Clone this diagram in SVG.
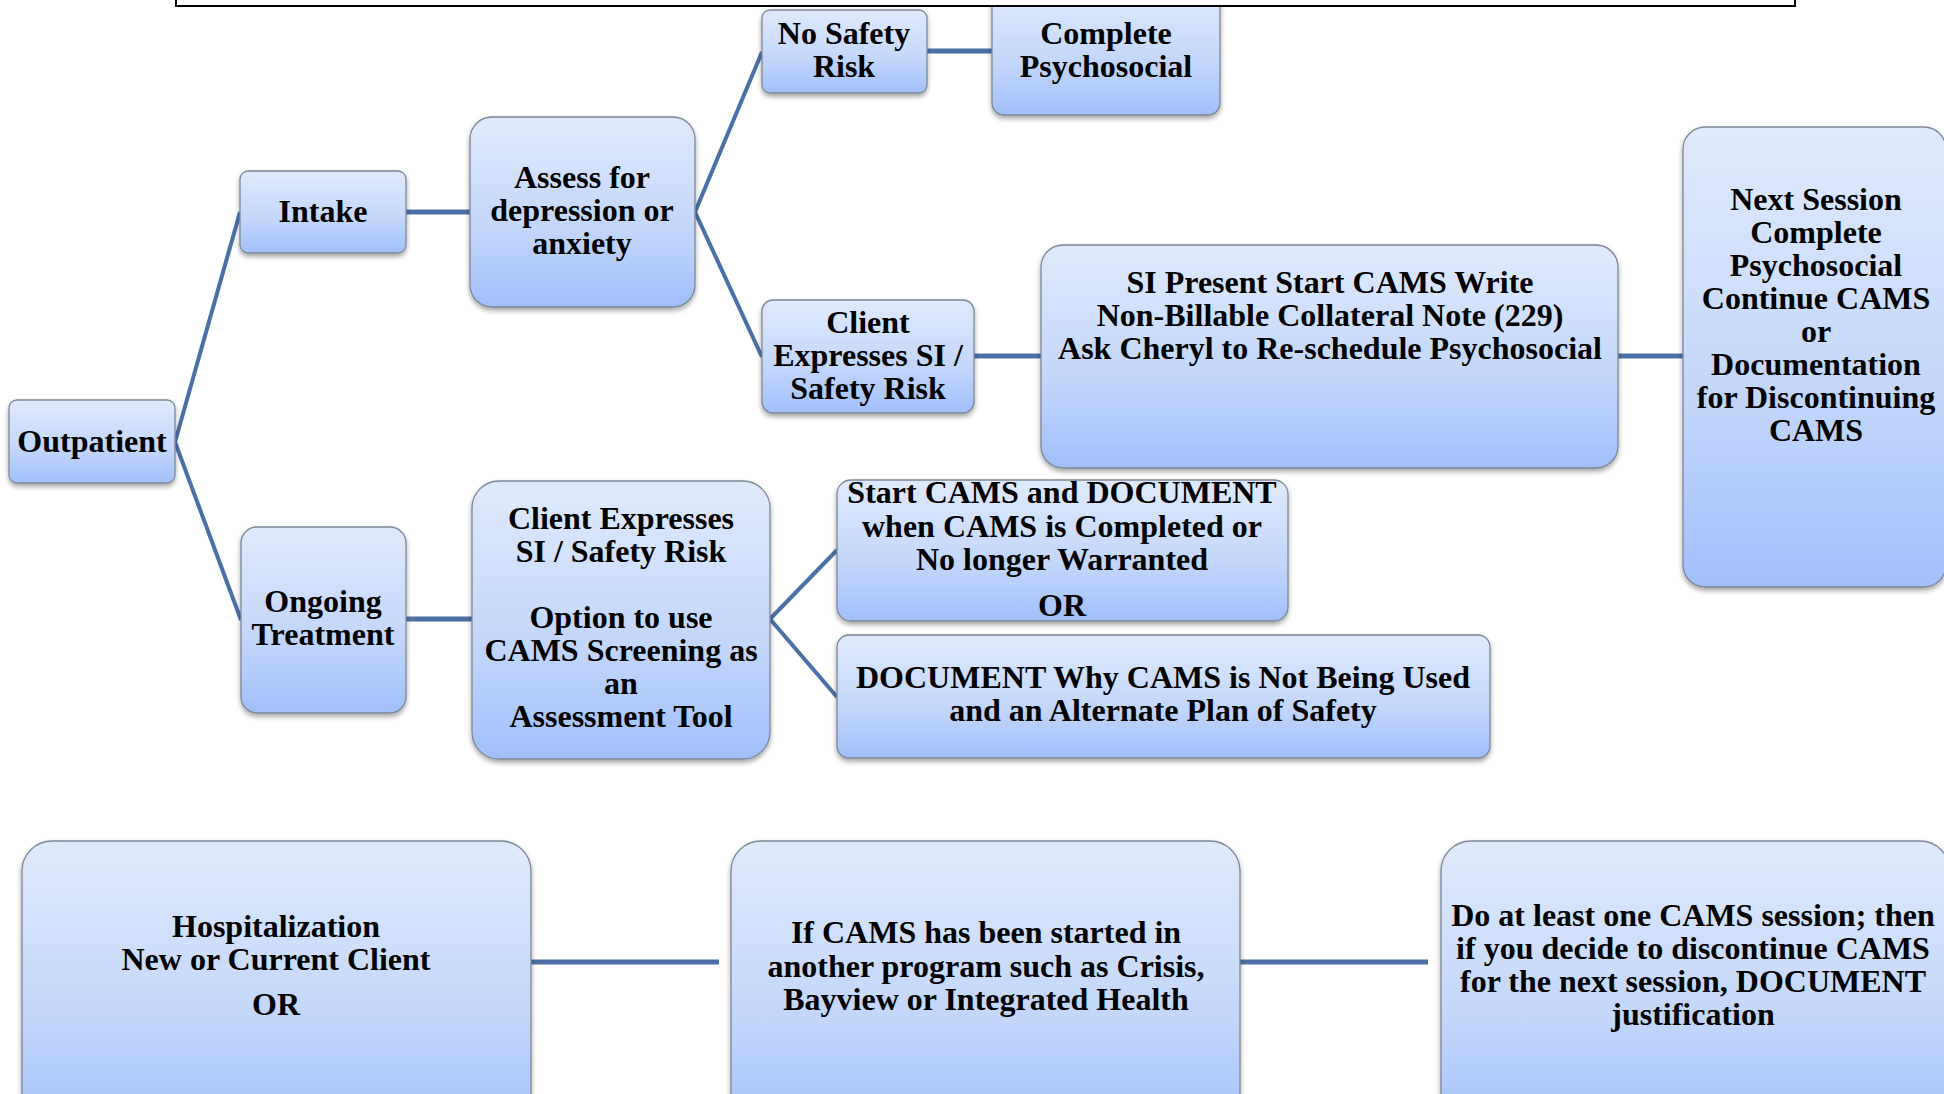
<svg xmlns="http://www.w3.org/2000/svg" width="1944" height="1094" viewBox="0 0 1944 1094">
<defs>
<linearGradient id="g" x1="0" y1="0" x2="0" y2="1">
<stop offset="0" stop-color="#e0eafd"/>
<stop offset="0.6" stop-color="#c2d6fb"/>
<stop offset="1" stop-color="#a0bffa"/>
</linearGradient>
<filter id="sh" x="-10%" y="-10%" width="120%" height="130%">
<feDropShadow dx="0" dy="3" stdDeviation="2.5" flood-color="#000" flood-opacity="0.35"/>
</filter>
<style>
.box{fill:url(#g);stroke:#7d8796;stroke-width:1.3;filter:url(#sh)}
.t{font-family:"Liberation Serif","Times New Roman",serif;font-weight:bold;font-size:32px;fill:#000;text-anchor:middle}
.c{stroke:#4a70a6;stroke-width:5;fill:none}
.d{stroke:#4a70a6;stroke-width:4;fill:none}
</style>
</defs>
<rect width="1944" height="1094" fill="#fff"/>

<g id="connectors">
<line class="d" x1="175" y1="442" x2="240" y2="212"/>
<line class="d" x1="175" y1="442" x2="241" y2="620"/>
<line class="c" x1="406" y1="212" x2="470" y2="212"/>
<line class="d" x1="695" y1="212" x2="762" y2="52"/>
<line class="d" x1="695" y1="212" x2="762" y2="357"/>
<line class="c" x1="927" y1="51" x2="992" y2="51"/>
<line class="c" x1="974" y1="356" x2="1041" y2="356"/>
<line class="c" x1="1618" y1="356" x2="1683" y2="356"/>
<line class="c" x1="406" y1="619" x2="472" y2="619"/>
<line class="d" x1="770" y1="619" x2="837" y2="550"/>
<line class="d" x1="770" y1="619" x2="837" y2="697"/>
<line class="c" x1="531" y1="962" x2="719" y2="962"/>
<line class="c" x1="1240" y1="962" x2="1428" y2="962"/>
</g>

<g id="outpatient">
<rect class="box" x="9" y="400" width="166" height="83" rx="8"/>
<text class="t" x="92" y="452">Outpatient</text>
</g>
<g id="intake">
<rect class="box" x="240" y="171" width="166" height="82" rx="8"/>
<text class="t" x="323" y="222">Intake</text>
</g>
<g id="assess">
<rect class="box" x="470" y="117" width="225" height="190" rx="22"/>
<text class="t" x="582" y="188">Assess for</text>
<text class="t" x="582" y="221">depression or</text>
<text class="t" x="582" y="254">anxiety</text>
</g>
<g id="no-safety-risk">
<rect class="box" x="762" y="10" width="165" height="83" rx="8"/>
<text class="t" x="844" y="44">No Safety</text>
<text class="t" x="844" y="77">Risk</text>
</g>
<g id="complete-psychosocial">
<rect class="box" x="992" y="-10" width="228" height="125" rx="12"/>
<text class="t" x="1106" y="44">Complete</text>
<text class="t" x="1106" y="77">Psychosocial</text>
</g>
<g id="frame">
<rect x="176" y="-20" width="1619" height="26" fill="#fff" stroke="#000" stroke-width="2"/>
</g>
<g id="client-expresses-intake">
<rect class="box" x="762" y="300" width="212" height="113" rx="11"/>
<text class="t" x="868" y="333">Client</text>
<text class="t" x="868" y="366">Expresses SI /</text>
<text class="t" x="868" y="399">Safety Risk</text>
</g>
<g id="si-present">
<rect class="box" x="1041" y="245" width="577" height="223" rx="22"/>
<text class="t" x="1330" y="293">SI Present Start CAMS Write</text>
<text class="t" x="1330" y="326">Non-Billable Collateral Note (229)</text>
<text class="t" x="1330" y="359">Ask Cheryl to Re-schedule Psychosocial</text>
</g>
<g id="next-session">
<rect class="box" x="1683" y="127" width="263" height="460" rx="22"/>
<text class="t" x="1816" y="210">Next Session</text>
<text class="t" x="1816" y="243">Complete</text>
<text class="t" x="1816" y="276">Psychosocial</text>
<text class="t" x="1816" y="309">Continue CAMS</text>
<text class="t" x="1816" y="342">or</text>
<text class="t" x="1816" y="375">Documentation</text>
<text class="t" x="1816" y="408">for Discontinuing</text>
<text class="t" x="1816" y="441">CAMS</text>
</g>
<g id="ongoing-treatment">
<rect class="box" x="241" y="527" width="165" height="186" rx="16"/>
<text class="t" x="323" y="612">Ongoing</text>
<text class="t" x="323" y="645">Treatment</text>
</g>
<g id="client-expresses-ongoing">
<rect class="box" x="472" y="481" width="298" height="278" rx="27"/>
<text class="t" x="621" y="529">Client Expresses</text>
<text class="t" x="621" y="562">SI / Safety Risk</text>
<text class="t" x="621" y="628">Option to use</text>
<text class="t" x="621" y="661">CAMS Screening as</text>
<text class="t" x="621" y="694">an</text>
<text class="t" x="621" y="727">Assessment Tool</text>
</g>
<g id="start-cams">
<rect class="box" x="837" y="480" width="451" height="141" rx="14"/>
<text class="t" x="1062" y="503">Start CAMS and DOCUMENT</text>
<text class="t" x="1062" y="537">when CAMS is Completed or</text>
<text class="t" x="1062" y="570">No longer Warranted</text>
<text class="t" x="1062" y="616">OR</text>
</g>
<g id="document-why">
<rect class="box" x="837" y="635" width="653" height="123" rx="12"/>
<text class="t" x="1163" y="688">DOCUMENT Why CAMS is Not Being Used</text>
<text class="t" x="1163" y="721">and an Alternate Plan of Safety</text>
</g>
<g id="hospitalization">
<rect class="box" x="22" y="841" width="509" height="300" rx="30"/>
<text class="t" x="276" y="937">Hospitalization</text>
<text class="t" x="276" y="970">New or Current Client</text>
<text class="t" x="276" y="1015">OR</text>
</g>
<g id="if-cams">
<rect class="box" x="731" y="841" width="509" height="300" rx="30"/>
<text class="t" x="986" y="943">If CAMS has been started in</text>
<text class="t" x="986" y="977">another program such as Crisis,</text>
<text class="t" x="986" y="1010">Bayview or Integrated Health</text>
</g>
<g id="do-at-least">
<rect class="box" x="1441" y="841" width="509" height="300" rx="30"/>
<text class="t" x="1693" y="926">Do at least one CAMS session; then</text>
<text class="t" x="1693" y="959">if you decide to discontinue CAMS</text>
<text class="t" x="1693" y="992">for the next session, DOCUMENT</text>
<text class="t" x="1693" y="1025">justification</text>
</g>
</svg>
